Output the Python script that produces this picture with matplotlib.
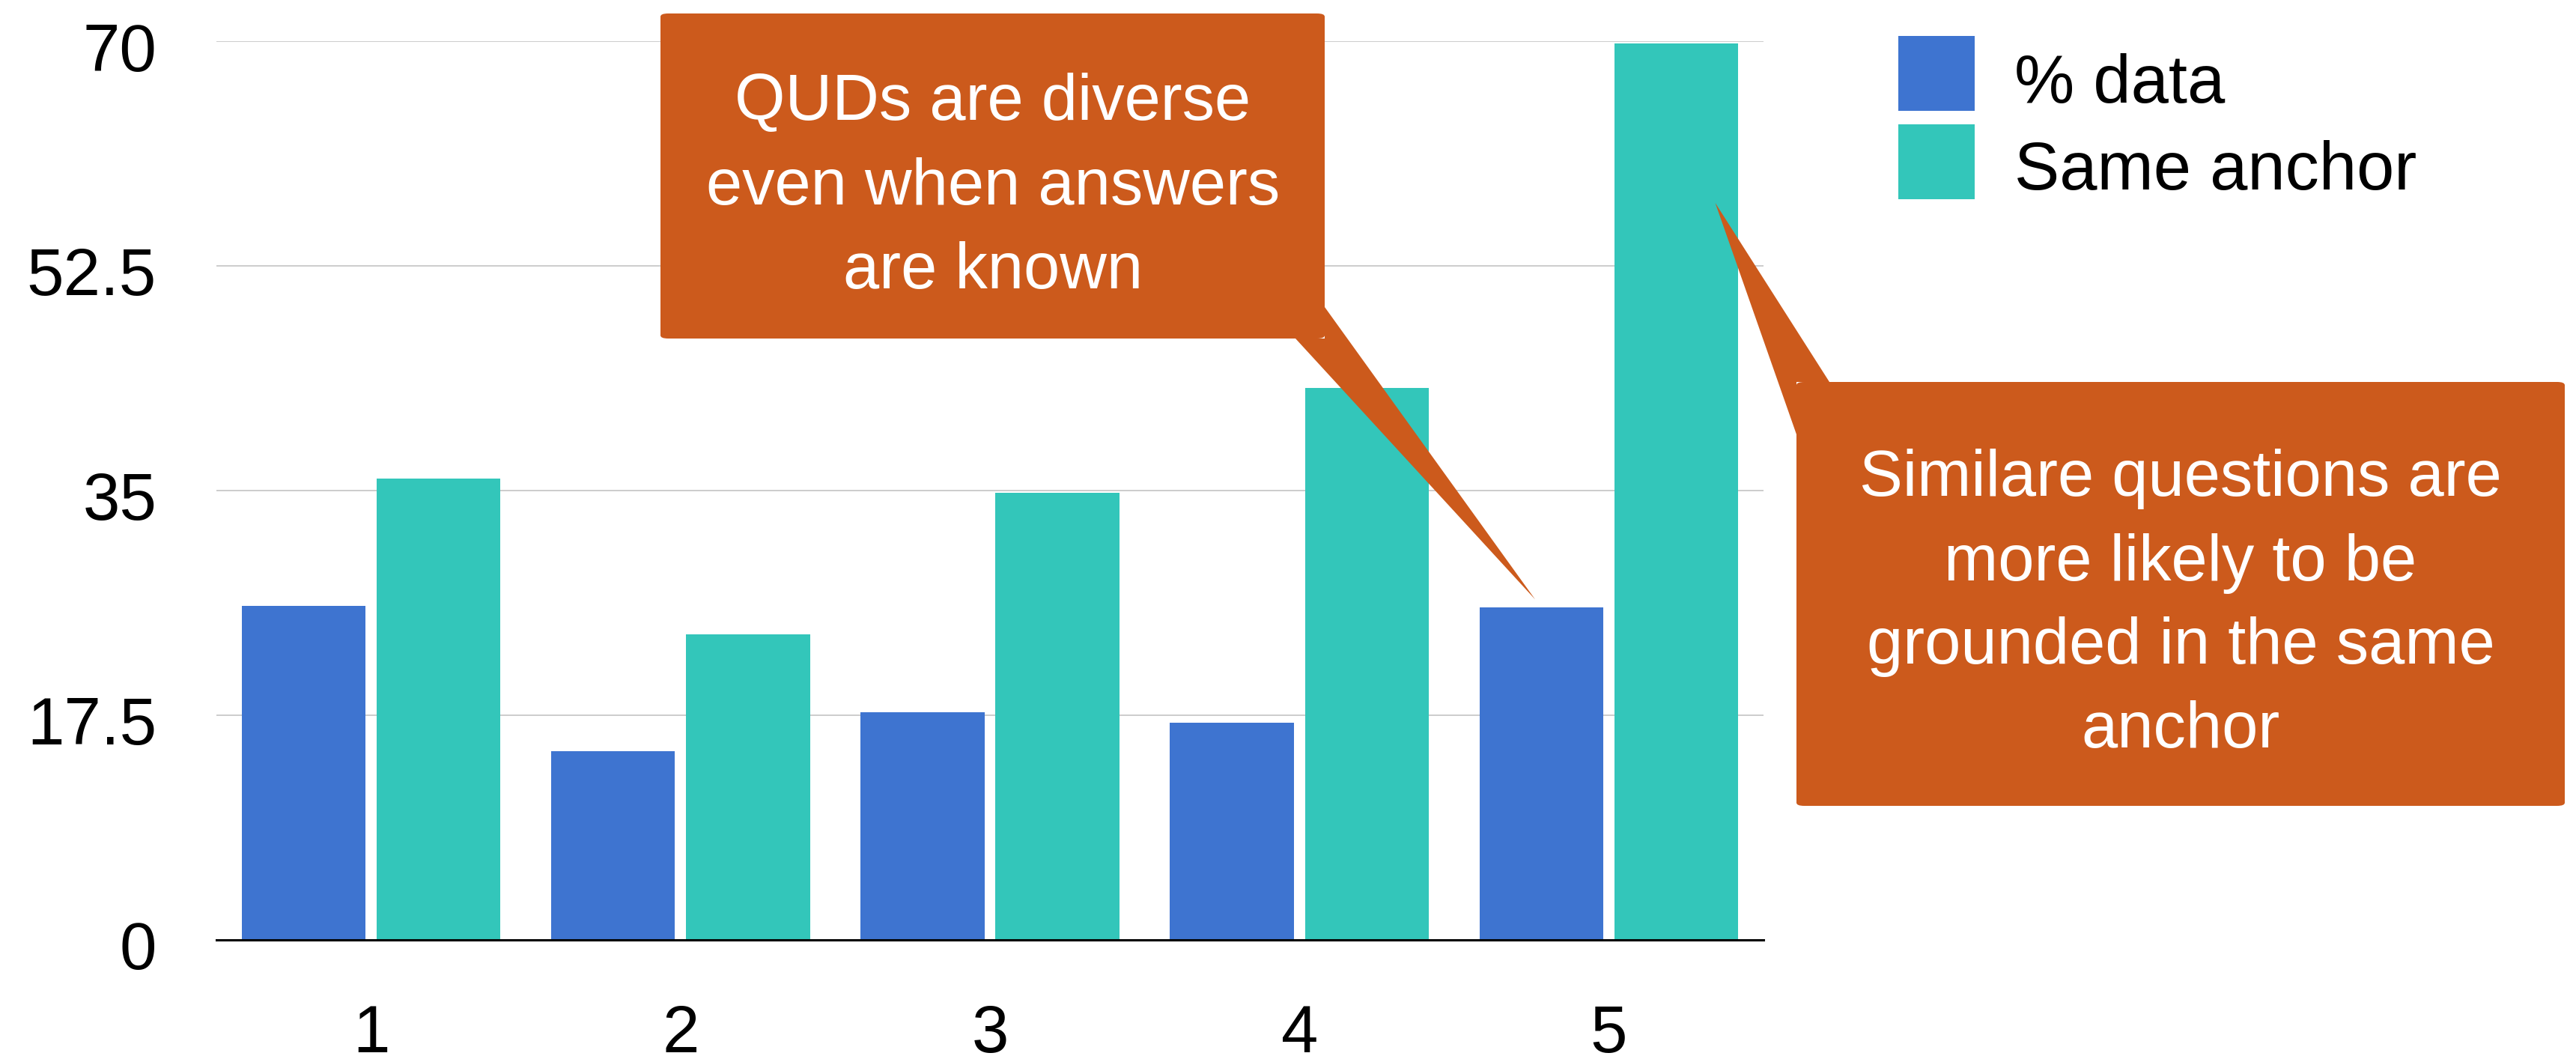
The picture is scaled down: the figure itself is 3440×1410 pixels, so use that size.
import matplotlib
matplotlib.use("Agg")
import matplotlib.pyplot as plt
from matplotlib.patches import FancyBboxPatch, Polygon, Rectangle
from matplotlib.transforms import ScaledTranslation
import numpy as np

categories = ["1", "2", "3", "4", "5"]
pct_data = [26.0, 14.7, 17.7, 16.9, 25.9]
same_anchor = [35.9, 23.8, 34.8, 43.0, 69.8]
series_names = ["% data", "Same anchor"]
y_ticks = [0, 17.5, 35, 52.5, 70]
y_tick_labels = ["0", "17.5", "35", "52.5", "70"]
callout1_lines = ["QUDs are diverse", "even when answers", "are known"]
callout2_lines = ["Similare questions are", "more likely to be", "grounded in the same", "anchor"]

BLUE = "#3E74D0"
TEAL = "#33C6BA"
ORANGE = "#CC5A1C"
FONT = "Liberation Sans"

W, H = 3441, 1410
plt.rcParams['font.family'] = [FONT, 'DejaVu Sans']
fig = plt.figure(figsize=(W / 100, H / 100), dpi=100)

def fx(x):
    return x / W

def fy(y):
    return 1 - y / H

# axes placement (pixels measured from top-left)
ax_l, ax_r, ax_t, ax_b = 289, 2355, 55, 1254.5
ax = fig.add_axes([fx(ax_l), fy(ax_b), (ax_r - ax_l) / W, (ax_b - ax_t) / H])

x = np.arange(len(categories))
bw = 0.4
off = 0.218
ax.bar(x - off, pct_data, bw, color=BLUE, label=series_names[0], zorder=3)
ax.bar(x + off, same_anchor, bw, color=TEAL, label=series_names[1], zorder=3)

ax.set_xlim(-0.5, len(categories) - 0.5)
ax.set_ylim(0, 70)
ax.set_xticks(x)
ax.set_xticklabels(categories)
ax.set_yticks(y_ticks)
ax.set_yticklabels(y_tick_labels)
ax.tick_params(axis='both', length=0, labelsize=64, colors='black')
ax.tick_params(axis='y', pad=57.5)
ax.tick_params(axis='x', pad=61.5)
shift = ScaledTranslation(0, -7 / 100, fig.dpi_scale_trans)
for lab in ax.get_yticklabels():
    lab.set_transform(lab.get_transform() + shift)
ax.grid(axis='y', color='#CCCCCC', linewidth=1.4, zorder=0)
for s in ['top', 'right', 'left']:
    ax.spines[s].set_visible(False)
ax.spines['bottom'].set_color('black')
ax.spines['bottom'].set_linewidth(2.2)
ax.spines['bottom'].set_zorder(4)

# legend (drawn as swatches + labels)
leg_colors = [BLUE, TEAL]
leg_tops = [48, 166]
leg_baselines = [137, 253]
for name, col, top, bl in zip(series_names, leg_colors, leg_tops, leg_baselines):
    fig.add_artist(Rectangle((fx(2535), fy(top + 100)), fx(2637) - fx(2535),
                             fy(top) - fy(top + 100), transform=fig.transFigure,
                             facecolor=col, edgecolor='none'))
    fig.text(fx(2690), fy(bl), name, ha='left', va='baseline', fontsize=65,
             color='black')

fig.canvas.draw()
to_fig = fig.transFigure.inverted()

def data_to_fig(xd, yd):
    return to_fig.transform(ax.transData.transform((xd, yd)))

def callout(box, base_a, corner, base_b, tip, lines, cx, baselines):
    x0, y0, x1, y1 = box
    patch = FancyBboxPatch((fx(x0), fy(y1)), fx(x1) - fx(x0), fy(y0) - fy(y1),
                           boxstyle="round,pad=0,rounding_size=0.003",
                           transform=fig.transFigure, facecolor=ORANGE,
                           edgecolor='none', zorder=10)
    fig.add_artist(patch)
    poly = Polygon([(fx(base_a[0]), fy(base_a[1])), tuple(tip),
                    (fx(base_b[0]), fy(base_b[1])), (fx(corner[0]), fy(corner[1]))],
                   closed=True, transform=fig.transFigure, facecolor=ORANGE,
                   edgecolor='none', zorder=10)
    fig.add_artist(poly)
    for line, bl in zip(lines, baselines):
        fig.text(fx(cx), fy(bl), line, ha='center', va='baseline',
                 color='white', fontsize=62.5, zorder=11)

# callout 1 points at the % data bar of category 5
tip1 = data_to_fig(x[4] - off - 0.02, pct_data[4] + 0.6)
callout((882, 18, 1769, 452), (1730, 452), (1769, 452), (1769, 410), tip1,
        callout1_lines, 1326, [160.5, 273, 385])

# callout 2 points at the Same anchor bar of category 5
tip2 = data_to_fig(x[4] + off + 0.126, same_anchor[4] - 12.4)
callout((2399, 510, 3425, 1076), (2443, 510), (2399, 510), (2399, 580), tip2,
        callout2_lines, 2912, [662.5, 775, 886, 998])

fig.savefig("out.png", dpi=100)
